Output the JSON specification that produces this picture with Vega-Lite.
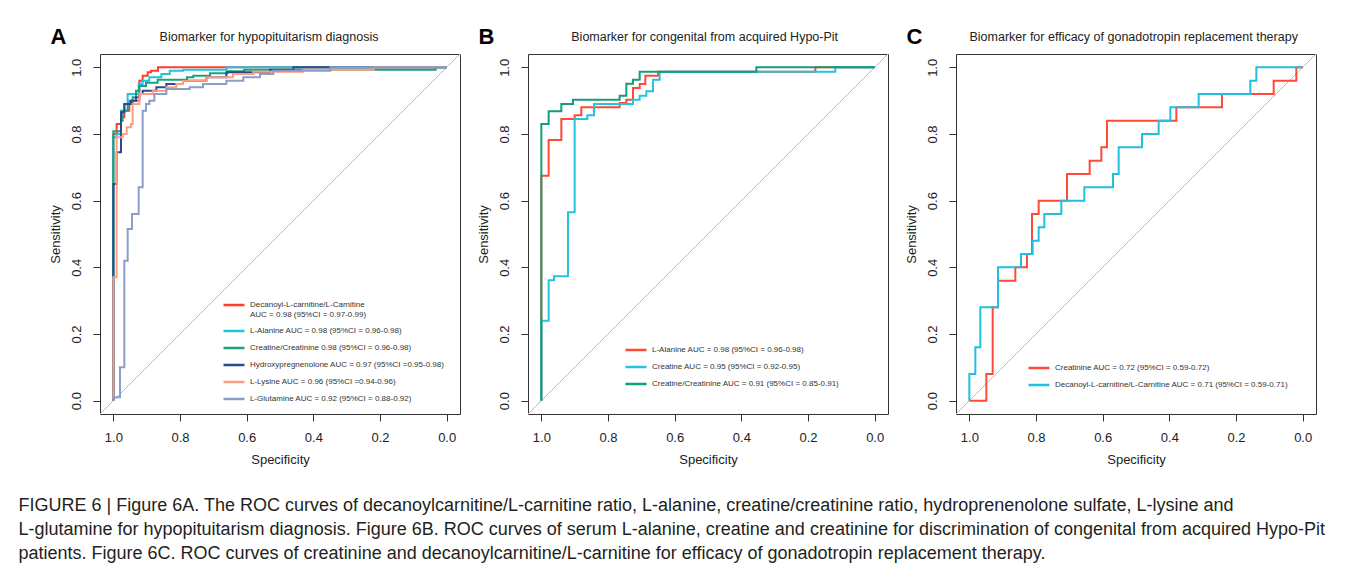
{
  "$schema": "https://vega.github.io/schema/vega-lite/v6.json",
  "background": "white",
  "padding": {"left": 18, "top": 25, "right": 5, "bottom": 5},
  "config": {
    "font": "Liberation Sans",
    "view": {"stroke": "#333", "strokeWidth": 1},
    "axis": {"grid": false, "domain": false, "tickColor": "#333", "tickSize": 7, "labelFontSize": 13, "titleFontSize": 13, "titleFontWeight": "normal", "labelColor": "#222", "titleColor": "#222", "format": ".1f"},
    "axisX": {"labelPadding": 10, "titlePadding": 9},
    "axisY": {"labelAngle": -90, "labelAlign": "center", "labelBaseline": "bottom", "labelPadding": 10, "titlePadding": 8},
    "legend": {"orient": "none", "symbolType": "stroke", "symbolStrokeWidth": 2.5, "symbolSize": 440, "labelFontSize": 8, "labelLimit": 0, "labelColor": "#333", "rowPadding": -2.5, "labelOffset": 4, "padding": 0},
    "text": {"font": "Liberation Sans"}
  },
  "title": {
    "text": [
      "FIGURE 6 | Figure 6A. The ROC curves of decanoylcarnitine/L-carnitine ratio, L-alanine, creatine/creatinine ratio, hydroprenenolone sulfate, L-lysine and",
      "L-glutamine for hypopituitarism diagnosis. Figure 6B. ROC curves of serum L-alanine, creatine and creatinine for discrimination of congenital from acquired Hypo-Pit",
      "patients. Figure 6C. ROC curves of creatinine and decanoylcarnitine/L-carnitine for efficacy of gonadotropin replacement therapy."
    ],
    "orient": "bottom", "anchor": "start", "dx": -30, "offset": 30, "fontSize": 18, "lineHeight": 24, "fontWeight": "normal", "color": "#231f20", "font": "Liberation Sans"
  },
  "datasets": {
    "panelA": [
      {"curve": "Decanoyl-L-carnitine/L-Carnitine\nAUC = 0.98 (95%CI = 0.97-0.99)", "specificity": 1, "sensitivity": 0},
      {"curve": "Decanoyl-L-carnitine/L-Carnitine\nAUC = 0.98 (95%CI = 0.97-0.99)", "specificity": 1, "sensitivity": 0.8},
      {"curve": "Decanoyl-L-carnitine/L-Carnitine\nAUC = 0.98 (95%CI = 0.97-0.99)", "specificity": 0.99, "sensitivity": 0.83},
      {"curve": "Decanoyl-L-carnitine/L-Carnitine\nAUC = 0.98 (95%CI = 0.97-0.99)", "specificity": 0.977, "sensitivity": 0.85},
      {"curve": "Decanoyl-L-carnitine/L-Carnitine\nAUC = 0.98 (95%CI = 0.97-0.99)", "specificity": 0.967, "sensitivity": 0.87},
      {"curve": "Decanoyl-L-carnitine/L-Carnitine\nAUC = 0.98 (95%CI = 0.97-0.99)", "specificity": 0.952, "sensitivity": 0.9},
      {"curve": "Decanoyl-L-carnitine/L-Carnitine\nAUC = 0.98 (95%CI = 0.97-0.99)", "specificity": 0.922, "sensitivity": 0.96},
      {"curve": "Decanoyl-L-carnitine/L-Carnitine\nAUC = 0.98 (95%CI = 0.97-0.99)", "specificity": 0.912, "sensitivity": 0.975},
      {"curve": "Decanoyl-L-carnitine/L-Carnitine\nAUC = 0.98 (95%CI = 0.97-0.99)", "specificity": 0.897, "sensitivity": 0.985},
      {"curve": "Decanoyl-L-carnitine/L-Carnitine\nAUC = 0.98 (95%CI = 0.97-0.99)", "specificity": 0.887, "sensitivity": 0.99},
      {"curve": "Decanoyl-L-carnitine/L-Carnitine\nAUC = 0.98 (95%CI = 0.97-0.99)", "specificity": 0.866, "sensitivity": 1},
      {"curve": "Decanoyl-L-carnitine/L-Carnitine\nAUC = 0.98 (95%CI = 0.97-0.99)", "specificity": 0, "sensitivity": 1},
      {"curve": "L-Alanine AUC = 0.98 (95%CI = 0.96-0.98)", "specificity": 1, "sensitivity": 0},
      {"curve": "L-Alanine AUC = 0.98 (95%CI = 0.96-0.98)", "specificity": 1, "sensitivity": 0.79},
      {"curve": "L-Alanine AUC = 0.98 (95%CI = 0.96-0.98)", "specificity": 0.99, "sensitivity": 0.8},
      {"curve": "L-Alanine AUC = 0.98 (95%CI = 0.96-0.98)", "specificity": 0.977, "sensitivity": 0.87},
      {"curve": "L-Alanine AUC = 0.98 (95%CI = 0.96-0.98)", "specificity": 0.967, "sensitivity": 0.89},
      {"curve": "L-Alanine AUC = 0.98 (95%CI = 0.96-0.98)", "specificity": 0.957, "sensitivity": 0.92},
      {"curve": "L-Alanine AUC = 0.98 (95%CI = 0.96-0.98)", "specificity": 0.924, "sensitivity": 0.95},
      {"curve": "L-Alanine AUC = 0.98 (95%CI = 0.96-0.98)", "specificity": 0.912, "sensitivity": 0.96},
      {"curve": "L-Alanine AUC = 0.98 (95%CI = 0.96-0.98)", "specificity": 0.892, "sensitivity": 0.97},
      {"curve": "L-Alanine AUC = 0.98 (95%CI = 0.96-0.98)", "specificity": 0.856, "sensitivity": 0.98},
      {"curve": "L-Alanine AUC = 0.98 (95%CI = 0.96-0.98)", "specificity": 0.831, "sensitivity": 0.99},
      {"curve": "L-Alanine AUC = 0.98 (95%CI = 0.96-0.98)", "specificity": 0.791, "sensitivity": 0.993},
      {"curve": "L-Alanine AUC = 0.98 (95%CI = 0.96-0.98)", "specificity": 0.66, "sensitivity": 1},
      {"curve": "L-Alanine AUC = 0.98 (95%CI = 0.96-0.98)", "specificity": 0, "sensitivity": 1},
      {"curve": "Creatine/Creatinine 0.98 (95%CI = 0.96-0.98)", "specificity": 1, "sensitivity": 0},
      {"curve": "Creatine/Creatinine 0.98 (95%CI = 0.96-0.98)", "specificity": 1, "sensitivity": 0.808},
      {"curve": "Creatine/Creatinine 0.98 (95%CI = 0.96-0.98)", "specificity": 0.977, "sensitivity": 0.84},
      {"curve": "Creatine/Creatinine 0.98 (95%CI = 0.96-0.98)", "specificity": 0.972, "sensitivity": 0.87},
      {"curve": "Creatine/Creatinine 0.98 (95%CI = 0.96-0.98)", "specificity": 0.957, "sensitivity": 0.89},
      {"curve": "Creatine/Creatinine 0.98 (95%CI = 0.96-0.98)", "specificity": 0.942, "sensitivity": 0.91},
      {"curve": "Creatine/Creatinine 0.98 (95%CI = 0.96-0.98)", "specificity": 0.932, "sensitivity": 0.93},
      {"curve": "Creatine/Creatinine 0.98 (95%CI = 0.96-0.98)", "specificity": 0.922, "sensitivity": 0.944},
      {"curve": "Creatine/Creatinine 0.98 (95%CI = 0.96-0.98)", "specificity": 0.902, "sensitivity": 0.954},
      {"curve": "Creatine/Creatinine 0.98 (95%CI = 0.96-0.98)", "specificity": 0.867, "sensitivity": 0.963},
      {"curve": "Creatine/Creatinine 0.98 (95%CI = 0.96-0.98)", "specificity": 0.779, "sensitivity": 0.97},
      {"curve": "Creatine/Creatinine 0.98 (95%CI = 0.96-0.98)", "specificity": 0.76, "sensitivity": 0.975},
      {"curve": "Creatine/Creatinine 0.98 (95%CI = 0.96-0.98)", "specificity": 0.71, "sensitivity": 0.982},
      {"curve": "Creatine/Creatinine 0.98 (95%CI = 0.96-0.98)", "specificity": 0.658, "sensitivity": 0.988},
      {"curve": "Creatine/Creatinine 0.98 (95%CI = 0.96-0.98)", "specificity": 0.608, "sensitivity": 0.993},
      {"curve": "Creatine/Creatinine 0.98 (95%CI = 0.96-0.98)", "specificity": 0.033, "sensitivity": 1},
      {"curve": "Creatine/Creatinine 0.98 (95%CI = 0.96-0.98)", "specificity": 0, "sensitivity": 1},
      {"curve": "Hydroxypregnenolone AUC = 0.97 (95%CI =0.95-0.98)", "specificity": 1, "sensitivity": 0},
      {"curve": "Hydroxypregnenolone AUC = 0.97 (95%CI =0.95-0.98)", "specificity": 1, "sensitivity": 0.65},
      {"curve": "Hydroxypregnenolone AUC = 0.97 (95%CI =0.95-0.98)", "specificity": 0.99, "sensitivity": 0.745},
      {"curve": "Hydroxypregnenolone AUC = 0.97 (95%CI =0.95-0.98)", "specificity": 0.977, "sensitivity": 0.865},
      {"curve": "Hydroxypregnenolone AUC = 0.97 (95%CI =0.95-0.98)", "specificity": 0.967, "sensitivity": 0.89},
      {"curve": "Hydroxypregnenolone AUC = 0.97 (95%CI =0.95-0.98)", "specificity": 0.947, "sensitivity": 0.9},
      {"curve": "Hydroxypregnenolone AUC = 0.97 (95%CI =0.95-0.98)", "specificity": 0.932, "sensitivity": 0.91},
      {"curve": "Hydroxypregnenolone AUC = 0.97 (95%CI =0.95-0.98)", "specificity": 0.922, "sensitivity": 0.92},
      {"curve": "Hydroxypregnenolone AUC = 0.97 (95%CI =0.95-0.98)", "specificity": 0.912, "sensitivity": 0.93},
      {"curve": "Hydroxypregnenolone AUC = 0.97 (95%CI =0.95-0.98)", "specificity": 0.871, "sensitivity": 0.94},
      {"curve": "Hydroxypregnenolone AUC = 0.97 (95%CI =0.95-0.98)", "specificity": 0.841, "sensitivity": 0.95},
      {"curve": "Hydroxypregnenolone AUC = 0.97 (95%CI =0.95-0.98)", "specificity": 0.791, "sensitivity": 0.96},
      {"curve": "Hydroxypregnenolone AUC = 0.97 (95%CI =0.95-0.98)", "specificity": 0.721, "sensitivity": 0.97},
      {"curve": "Hydroxypregnenolone AUC = 0.97 (95%CI =0.95-0.98)", "specificity": 0.661, "sensitivity": 0.985},
      {"curve": "Hydroxypregnenolone AUC = 0.97 (95%CI =0.95-0.98)", "specificity": 0.53, "sensitivity": 0.993},
      {"curve": "Hydroxypregnenolone AUC = 0.97 (95%CI =0.95-0.98)", "specificity": 0.46, "sensitivity": 1},
      {"curve": "Hydroxypregnenolone AUC = 0.97 (95%CI =0.95-0.98)", "specificity": 0, "sensitivity": 1},
      {"curve": "L-Lysine AUC = 0.96 (95%CI =0.94-0.96)", "specificity": 1, "sensitivity": 0},
      {"curve": "L-Lysine AUC = 0.96 (95%CI =0.94-0.96)", "specificity": 1, "sensitivity": 0.37},
      {"curve": "L-Lysine AUC = 0.96 (95%CI =0.94-0.96)", "specificity": 0.99, "sensitivity": 0.79},
      {"curve": "L-Lysine AUC = 0.96 (95%CI =0.94-0.96)", "specificity": 0.972, "sensitivity": 0.8},
      {"curve": "L-Lysine AUC = 0.96 (95%CI =0.94-0.96)", "specificity": 0.96, "sensitivity": 0.82},
      {"curve": "L-Lysine AUC = 0.96 (95%CI =0.94-0.96)", "specificity": 0.947, "sensitivity": 0.83},
      {"curve": "L-Lysine AUC = 0.96 (95%CI =0.94-0.96)", "specificity": 0.942, "sensitivity": 0.89},
      {"curve": "L-Lysine AUC = 0.96 (95%CI =0.94-0.96)", "specificity": 0.922, "sensitivity": 0.92},
      {"curve": "L-Lysine AUC = 0.96 (95%CI =0.94-0.96)", "specificity": 0.882, "sensitivity": 0.93},
      {"curve": "L-Lysine AUC = 0.96 (95%CI =0.94-0.96)", "specificity": 0.841, "sensitivity": 0.94},
      {"curve": "L-Lysine AUC = 0.96 (95%CI =0.94-0.96)", "specificity": 0.811, "sensitivity": 0.95},
      {"curve": "L-Lysine AUC = 0.96 (95%CI =0.94-0.96)", "specificity": 0.791, "sensitivity": 0.96},
      {"curve": "L-Lysine AUC = 0.96 (95%CI =0.94-0.96)", "specificity": 0.721, "sensitivity": 0.97},
      {"curve": "L-Lysine AUC = 0.96 (95%CI =0.94-0.96)", "specificity": 0.641, "sensitivity": 0.98},
      {"curve": "L-Lysine AUC = 0.96 (95%CI =0.94-0.96)", "specificity": 0.58, "sensitivity": 0.987},
      {"curve": "L-Lysine AUC = 0.96 (95%CI =0.94-0.96)", "specificity": 0.43, "sensitivity": 0.993},
      {"curve": "L-Lysine AUC = 0.96 (95%CI =0.94-0.96)", "specificity": 0.219, "sensitivity": 1},
      {"curve": "L-Lysine AUC = 0.96 (95%CI =0.94-0.96)", "specificity": 0, "sensitivity": 1},
      {"curve": "L-Glutamine AUC = 0.92 (95%CI = 0.88-0.92)", "specificity": 1, "sensitivity": 0},
      {"curve": "L-Glutamine AUC = 0.92 (95%CI = 0.88-0.92)", "specificity": 1, "sensitivity": 0.01},
      {"curve": "L-Glutamine AUC = 0.92 (95%CI = 0.88-0.92)", "specificity": 0.98, "sensitivity": 0.1},
      {"curve": "L-Glutamine AUC = 0.92 (95%CI = 0.88-0.92)", "specificity": 0.967, "sensitivity": 0.42},
      {"curve": "L-Glutamine AUC = 0.92 (95%CI = 0.88-0.92)", "specificity": 0.957, "sensitivity": 0.515},
      {"curve": "L-Glutamine AUC = 0.92 (95%CI = 0.88-0.92)", "specificity": 0.944, "sensitivity": 0.56},
      {"curve": "L-Glutamine AUC = 0.92 (95%CI = 0.88-0.92)", "specificity": 0.924, "sensitivity": 0.64},
      {"curve": "L-Glutamine AUC = 0.92 (95%CI = 0.88-0.92)", "specificity": 0.912, "sensitivity": 0.87},
      {"curve": "L-Glutamine AUC = 0.92 (95%CI = 0.88-0.92)", "specificity": 0.902, "sensitivity": 0.89},
      {"curve": "L-Glutamine AUC = 0.92 (95%CI = 0.88-0.92)", "specificity": 0.892, "sensitivity": 0.9},
      {"curve": "L-Glutamine AUC = 0.92 (95%CI = 0.88-0.92)", "specificity": 0.877, "sensitivity": 0.92},
      {"curve": "L-Glutamine AUC = 0.92 (95%CI = 0.88-0.92)", "specificity": 0.841, "sensitivity": 0.935},
      {"curve": "L-Glutamine AUC = 0.92 (95%CI = 0.88-0.92)", "specificity": 0.771, "sensitivity": 0.94},
      {"curve": "L-Glutamine AUC = 0.92 (95%CI = 0.88-0.92)", "specificity": 0.731, "sensitivity": 0.95},
      {"curve": "L-Glutamine AUC = 0.92 (95%CI = 0.88-0.92)", "specificity": 0.661, "sensitivity": 0.96},
      {"curve": "L-Glutamine AUC = 0.92 (95%CI = 0.88-0.92)", "specificity": 0.61, "sensitivity": 0.97},
      {"curve": "L-Glutamine AUC = 0.92 (95%CI = 0.88-0.92)", "specificity": 0.56, "sensitivity": 0.98},
      {"curve": "L-Glutamine AUC = 0.92 (95%CI = 0.88-0.92)", "specificity": 0.52, "sensitivity": 0.99},
      {"curve": "L-Glutamine AUC = 0.92 (95%CI = 0.88-0.92)", "specificity": 0.349, "sensitivity": 1},
      {"curve": "L-Glutamine AUC = 0.92 (95%CI = 0.88-0.92)", "specificity": 0, "sensitivity": 1}
    ],
    "panelB": [
      {"curve": "L-Alanine AUC = 0.98 (95%CI = 0.96-0.98)", "specificity": 1, "sensitivity": 0},
      {"curve": "L-Alanine AUC = 0.98 (95%CI = 0.96-0.98)", "specificity": 1, "sensitivity": 0.675},
      {"curve": "L-Alanine AUC = 0.98 (95%CI = 0.96-0.98)", "specificity": 0.978, "sensitivity": 0.782},
      {"curve": "L-Alanine AUC = 0.98 (95%CI = 0.96-0.98)", "specificity": 0.94, "sensitivity": 0.845},
      {"curve": "L-Alanine AUC = 0.98 (95%CI = 0.96-0.98)", "specificity": 0.9, "sensitivity": 0.856},
      {"curve": "L-Alanine AUC = 0.98 (95%CI = 0.96-0.98)", "specificity": 0.88, "sensitivity": 0.88},
      {"curve": "L-Alanine AUC = 0.98 (95%CI = 0.96-0.98)", "specificity": 0.765, "sensitivity": 0.893},
      {"curve": "L-Alanine AUC = 0.98 (95%CI = 0.96-0.98)", "specificity": 0.745, "sensitivity": 0.903},
      {"curve": "L-Alanine AUC = 0.98 (95%CI = 0.96-0.98)", "specificity": 0.725, "sensitivity": 0.938},
      {"curve": "L-Alanine AUC = 0.98 (95%CI = 0.96-0.98)", "specificity": 0.705, "sensitivity": 0.95},
      {"curve": "L-Alanine AUC = 0.98 (95%CI = 0.96-0.98)", "specificity": 0.688, "sensitivity": 0.975},
      {"curve": "L-Alanine AUC = 0.98 (95%CI = 0.96-0.98)", "specificity": 0.65, "sensitivity": 0.987},
      {"curve": "L-Alanine AUC = 0.98 (95%CI = 0.96-0.98)", "specificity": 0.178, "sensitivity": 1},
      {"curve": "L-Alanine AUC = 0.98 (95%CI = 0.96-0.98)", "specificity": 0, "sensitivity": 1},
      {"curve": "Creatine AUC = 0.95 (95%CI = 0.92-0.95)", "specificity": 1, "sensitivity": 0},
      {"curve": "Creatine AUC = 0.95 (95%CI = 0.92-0.95)", "specificity": 1, "sensitivity": 0.24},
      {"curve": "Creatine AUC = 0.95 (95%CI = 0.92-0.95)", "specificity": 0.978, "sensitivity": 0.361},
      {"curve": "Creatine AUC = 0.95 (95%CI = 0.92-0.95)", "specificity": 0.962, "sensitivity": 0.373},
      {"curve": "Creatine AUC = 0.95 (95%CI = 0.92-0.95)", "specificity": 0.92, "sensitivity": 0.565},
      {"curve": "Creatine AUC = 0.95 (95%CI = 0.92-0.95)", "specificity": 0.9, "sensitivity": 0.845},
      {"curve": "Creatine AUC = 0.95 (95%CI = 0.92-0.95)", "specificity": 0.862, "sensitivity": 0.856},
      {"curve": "Creatine AUC = 0.95 (95%CI = 0.92-0.95)", "specificity": 0.842, "sensitivity": 0.89},
      {"curve": "Creatine AUC = 0.95 (95%CI = 0.92-0.95)", "specificity": 0.725, "sensitivity": 0.903},
      {"curve": "Creatine AUC = 0.95 (95%CI = 0.92-0.95)", "specificity": 0.705, "sensitivity": 0.915},
      {"curve": "Creatine AUC = 0.95 (95%CI = 0.92-0.95)", "specificity": 0.685, "sensitivity": 0.928},
      {"curve": "Creatine AUC = 0.95 (95%CI = 0.92-0.95)", "specificity": 0.665, "sensitivity": 0.963},
      {"curve": "Creatine AUC = 0.95 (95%CI = 0.92-0.95)", "specificity": 0.645, "sensitivity": 0.987},
      {"curve": "Creatine AUC = 0.95 (95%CI = 0.92-0.95)", "specificity": 0.118, "sensitivity": 1},
      {"curve": "Creatine AUC = 0.95 (95%CI = 0.92-0.95)", "specificity": 0, "sensitivity": 1},
      {"curve": "Creatine/Creatinine AUC = 0.91 (95%CI = 0.85-0.91)", "specificity": 1, "sensitivity": 0},
      {"curve": "Creatine/Creatinine AUC = 0.91 (95%CI = 0.85-0.91)", "specificity": 1, "sensitivity": 0.83},
      {"curve": "Creatine/Creatinine AUC = 0.91 (95%CI = 0.85-0.91)", "specificity": 0.978, "sensitivity": 0.868},
      {"curve": "Creatine/Creatinine AUC = 0.91 (95%CI = 0.85-0.91)", "specificity": 0.94, "sensitivity": 0.89},
      {"curve": "Creatine/Creatinine AUC = 0.91 (95%CI = 0.85-0.91)", "specificity": 0.905, "sensitivity": 0.903},
      {"curve": "Creatine/Creatinine AUC = 0.91 (95%CI = 0.85-0.91)", "specificity": 0.765, "sensitivity": 0.915},
      {"curve": "Creatine/Creatinine AUC = 0.91 (95%CI = 0.85-0.91)", "specificity": 0.745, "sensitivity": 0.951},
      {"curve": "Creatine/Creatinine AUC = 0.91 (95%CI = 0.85-0.91)", "specificity": 0.725, "sensitivity": 0.963},
      {"curve": "Creatine/Creatinine AUC = 0.91 (95%CI = 0.85-0.91)", "specificity": 0.705, "sensitivity": 0.987},
      {"curve": "Creatine/Creatinine AUC = 0.91 (95%CI = 0.85-0.91)", "specificity": 0.355, "sensitivity": 1},
      {"curve": "Creatine/Creatinine AUC = 0.91 (95%CI = 0.85-0.91)", "specificity": 0, "sensitivity": 1}
    ],
    "panelC": [
      {"curve": "Creatinine AUC = 0.72 (95%CI = 0.59-0.72)", "specificity": 1, "sensitivity": 0},
      {"curve": "Creatinine AUC = 0.72 (95%CI = 0.59-0.72)", "specificity": 0.949, "sensitivity": 0.08},
      {"curve": "Creatinine AUC = 0.72 (95%CI = 0.59-0.72)", "specificity": 0.93, "sensitivity": 0.28},
      {"curve": "Creatinine AUC = 0.72 (95%CI = 0.59-0.72)", "specificity": 0.914, "sensitivity": 0.36},
      {"curve": "Creatinine AUC = 0.72 (95%CI = 0.59-0.72)", "specificity": 0.862, "sensitivity": 0.4},
      {"curve": "Creatinine AUC = 0.72 (95%CI = 0.59-0.72)", "specificity": 0.827, "sensitivity": 0.44},
      {"curve": "Creatinine AUC = 0.72 (95%CI = 0.59-0.72)", "specificity": 0.812, "sensitivity": 0.56},
      {"curve": "Creatinine AUC = 0.72 (95%CI = 0.59-0.72)", "specificity": 0.792, "sensitivity": 0.6},
      {"curve": "Creatinine AUC = 0.72 (95%CI = 0.59-0.72)", "specificity": 0.707, "sensitivity": 0.68},
      {"curve": "Creatinine AUC = 0.72 (95%CI = 0.59-0.72)", "specificity": 0.639, "sensitivity": 0.72},
      {"curve": "Creatinine AUC = 0.72 (95%CI = 0.59-0.72)", "specificity": 0.604, "sensitivity": 0.76},
      {"curve": "Creatinine AUC = 0.72 (95%CI = 0.59-0.72)", "specificity": 0.587, "sensitivity": 0.84},
      {"curve": "Creatinine AUC = 0.72 (95%CI = 0.59-0.72)", "specificity": 0.379, "sensitivity": 0.88},
      {"curve": "Creatinine AUC = 0.72 (95%CI = 0.59-0.72)", "specificity": 0.242, "sensitivity": 0.92},
      {"curve": "Creatinine AUC = 0.72 (95%CI = 0.59-0.72)", "specificity": 0.087, "sensitivity": 0.96},
      {"curve": "Creatinine AUC = 0.72 (95%CI = 0.59-0.72)", "specificity": 0.019, "sensitivity": 1},
      {"curve": "Creatinine AUC = 0.72 (95%CI = 0.59-0.72)", "specificity": 0, "sensitivity": 1},
      {"curve": "Decanoyl-L-carnitine/L-Carnitine AUC = 0.71 (95%CI = 0.59-0.71)", "specificity": 1, "sensitivity": 0},
      {"curve": "Decanoyl-L-carnitine/L-Carnitine AUC = 0.71 (95%CI = 0.59-0.71)", "specificity": 1, "sensitivity": 0.08},
      {"curve": "Decanoyl-L-carnitine/L-Carnitine AUC = 0.71 (95%CI = 0.59-0.71)", "specificity": 0.982, "sensitivity": 0.16},
      {"curve": "Decanoyl-L-carnitine/L-Carnitine AUC = 0.71 (95%CI = 0.59-0.71)", "specificity": 0.967, "sensitivity": 0.28},
      {"curve": "Decanoyl-L-carnitine/L-Carnitine AUC = 0.71 (95%CI = 0.59-0.71)", "specificity": 0.914, "sensitivity": 0.4},
      {"curve": "Decanoyl-L-carnitine/L-Carnitine AUC = 0.71 (95%CI = 0.59-0.71)", "specificity": 0.845, "sensitivity": 0.44},
      {"curve": "Decanoyl-L-carnitine/L-Carnitine AUC = 0.71 (95%CI = 0.59-0.71)", "specificity": 0.81, "sensitivity": 0.48},
      {"curve": "Decanoyl-L-carnitine/L-Carnitine AUC = 0.71 (95%CI = 0.59-0.71)", "specificity": 0.792, "sensitivity": 0.52},
      {"curve": "Decanoyl-L-carnitine/L-Carnitine AUC = 0.71 (95%CI = 0.59-0.71)", "specificity": 0.775, "sensitivity": 0.56},
      {"curve": "Decanoyl-L-carnitine/L-Carnitine AUC = 0.71 (95%CI = 0.59-0.71)", "specificity": 0.724, "sensitivity": 0.6},
      {"curve": "Decanoyl-L-carnitine/L-Carnitine AUC = 0.71 (95%CI = 0.59-0.71)", "specificity": 0.655, "sensitivity": 0.64},
      {"curve": "Decanoyl-L-carnitine/L-Carnitine AUC = 0.71 (95%CI = 0.59-0.71)", "specificity": 0.569, "sensitivity": 0.68},
      {"curve": "Decanoyl-L-carnitine/L-Carnitine AUC = 0.71 (95%CI = 0.59-0.71)", "specificity": 0.552, "sensitivity": 0.76},
      {"curve": "Decanoyl-L-carnitine/L-Carnitine AUC = 0.71 (95%CI = 0.59-0.71)", "specificity": 0.482, "sensitivity": 0.8},
      {"curve": "Decanoyl-L-carnitine/L-Carnitine AUC = 0.71 (95%CI = 0.59-0.71)", "specificity": 0.432, "sensitivity": 0.84},
      {"curve": "Decanoyl-L-carnitine/L-Carnitine AUC = 0.71 (95%CI = 0.59-0.71)", "specificity": 0.397, "sensitivity": 0.88},
      {"curve": "Decanoyl-L-carnitine/L-Carnitine AUC = 0.71 (95%CI = 0.59-0.71)", "specificity": 0.312, "sensitivity": 0.92},
      {"curve": "Decanoyl-L-carnitine/L-Carnitine AUC = 0.71 (95%CI = 0.59-0.71)", "specificity": 0.157, "sensitivity": 0.96},
      {"curve": "Decanoyl-L-carnitine/L-Carnitine AUC = 0.71 (95%CI = 0.59-0.71)", "specificity": 0.139, "sensitivity": 1},
      {"curve": "Decanoyl-L-carnitine/L-Carnitine AUC = 0.71 (95%CI = 0.59-0.71)", "specificity": 0, "sensitivity": 1}
    ]
  },
  "spacing": 15,
  "resolve": {"scale": {"color": "independent"}, "legend": {"color": "independent"}},
  "hconcat": [
    {
      "width": 360, "height": 360,
      "data": {"values": [{"letter": "A", "heading": "Biomarker for hypopituitarism diagnosis"}]},
      "layer": [
        {
          "mark": {"type": "rule", "color": "#bdbdbd", "strokeWidth": 1},
          "encoding": {
            "x": {"datum": 1.04, "type": "quantitative", "scale": {"domain": [-0.04, 1.04], "reverse": true, "nice": false, "zero": false}, "axis": {"title": "Specificity", "values": [0, 0.2, 0.4, 0.6, 0.8, 1]}},
            "y": {"datum": -0.04, "type": "quantitative", "scale": {"domain": [-0.04, 1.04], "nice": false, "zero": false}, "axis": {"title": "Sensitivity", "values": [0, 0.2, 0.4, 0.6, 0.8, 1]}},
            "x2": {"datum": -0.04},
            "y2": {"datum": 1.04}
          }
        },
        {
          "data": {"name": "panelA"},
          "mark": {"type": "line", "interpolate": "step-after", "strokeWidth": 2},
          "encoding": {
            "x": {"field": "specificity", "type": "quantitative"},
            "y": {"field": "sensitivity", "type": "quantitative"},
            "color": {
              "field": "curve", "type": "nominal",
              "scale": {
                "domain": ["Decanoyl-L-carnitine/L-Carnitine\nAUC = 0.98 (95%CI = 0.97-0.99)", "L-Alanine AUC = 0.98 (95%CI = 0.96-0.98)", "Creatine/Creatinine 0.98 (95%CI = 0.96-0.98)", "Hydroxypregnenolone AUC = 0.97 (95%CI =0.95-0.98)", "L-Lysine AUC = 0.96 (95%CI =0.94-0.96)", "L-Glutamine AUC = 0.92 (95%CI = 0.88-0.92)"],
                "range": ["#ff3d2e", "#1fc3e3", "#17a37f", "#2c4a8e", "#ff9c82", "#8c9dc9"]
              },
              "legend": {"title": null, "legendX": 122, "legendY": 239, "labelExpr": "split(datum.label, '\\n')"}
            },
            "order": [{"field": "specificity", "sort": "descending"}, {"field": "sensitivity", "sort": "ascending"}]
          }
        },
        {
          "mark": {"type": "text", "fontSize": 22, "fontWeight": "bold", "color": "#000"},
          "encoding": {"x": {"datum": 1.165}, "y": {"datum": 1.09}, "text": {"field": "letter"}}
        },
        {
          "mark": {"type": "text", "fontSize": 12.5, "color": "#222"},
          "encoding": {"x": {"datum": 0.533}, "y": {"datum": 1.09}, "text": {"field": "heading"}}
        }
      ]
    },
    {
      "width": 360, "height": 360,
      "data": {"values": [{"letter": "B", "heading": "Biomarker for congenital from acquired Hypo-Pit"}]},
      "layer": [
        {
          "mark": {"type": "rule", "color": "#bdbdbd", "strokeWidth": 1},
          "encoding": {
            "x": {"datum": 1.04, "type": "quantitative", "scale": {"domain": [-0.04, 1.04], "reverse": true, "nice": false, "zero": false}, "axis": {"title": "Specificity", "values": [0, 0.2, 0.4, 0.6, 0.8, 1]}},
            "y": {"datum": -0.04, "type": "quantitative", "scale": {"domain": [-0.04, 1.04], "nice": false, "zero": false}, "axis": {"title": "Sensitivity", "values": [0, 0.2, 0.4, 0.6, 0.8, 1]}},
            "x2": {"datum": -0.04},
            "y2": {"datum": 1.04}
          }
        },
        {
          "data": {"name": "panelB"},
          "mark": {"type": "line", "interpolate": "step-after", "strokeWidth": 2},
          "encoding": {
            "x": {"field": "specificity", "type": "quantitative"},
            "y": {"field": "sensitivity", "type": "quantitative"},
            "color": {
              "field": "curve", "type": "nominal",
              "scale": {
                "domain": ["L-Alanine AUC = 0.98 (95%CI = 0.96-0.98)", "Creatine AUC = 0.95 (95%CI = 0.92-0.95)", "Creatine/Creatinine AUC = 0.91 (95%CI = 0.85-0.91)"],
                "range": ["#ff4a36", "#26c2e2", "#119e7b"]
              },
              "legend": {"title": null, "legendX": 96, "legendY": 284}
            },
            "order": [{"field": "specificity", "sort": "descending"}, {"field": "sensitivity", "sort": "ascending"}]
          }
        },
        {
          "mark": {"type": "text", "fontSize": 22, "fontWeight": "bold", "color": "#000"},
          "encoding": {"x": {"datum": 1.165}, "y": {"datum": 1.09}, "text": {"field": "letter"}}
        },
        {
          "mark": {"type": "text", "fontSize": 12.5, "color": "#222"},
          "encoding": {"x": {"datum": 0.51}, "y": {"datum": 1.09}, "text": {"field": "heading"}}
        }
      ]
    },
    {
      "width": 360, "height": 360,
      "data": {"values": [{"letter": "C", "heading": "Biomarker for efficacy of gonadotropin replacement therapy"}]},
      "layer": [
        {
          "mark": {"type": "rule", "color": "#bdbdbd", "strokeWidth": 1},
          "encoding": {
            "x": {"datum": 1.04, "type": "quantitative", "scale": {"domain": [-0.04, 1.04], "reverse": true, "nice": false, "zero": false}, "axis": {"title": "Specificity", "values": [0, 0.2, 0.4, 0.6, 0.8, 1]}},
            "y": {"datum": -0.04, "type": "quantitative", "scale": {"domain": [-0.04, 1.04], "nice": false, "zero": false}, "axis": {"title": "Sensitivity", "values": [0, 0.2, 0.4, 0.6, 0.8, 1]}},
            "x2": {"datum": -0.04},
            "y2": {"datum": 1.04}
          }
        },
        {
          "data": {"name": "panelC"},
          "mark": {"type": "line", "interpolate": "step-after", "strokeWidth": 2},
          "encoding": {
            "x": {"field": "specificity", "type": "quantitative"},
            "y": {"field": "sensitivity", "type": "quantitative"},
            "color": {
              "field": "curve", "type": "nominal",
              "scale": {
                "domain": ["Creatinine AUC = 0.72 (95%CI = 0.59-0.72)", "Decanoyl-L-carnitine/L-Carnitine AUC = 0.71 (95%CI = 0.59-0.71)"],
                "range": ["#ff4a38", "#21c0e0"]
              },
              "legend": {"title": null, "legendX": 71, "legendY": 302}
            },
            "order": [{"field": "specificity", "sort": "descending"}, {"field": "sensitivity", "sort": "ascending"}]
          }
        },
        {
          "mark": {"type": "text", "fontSize": 22, "fontWeight": "bold", "color": "#000"},
          "encoding": {"x": {"datum": 1.165}, "y": {"datum": 1.09}, "text": {"field": "letter"}}
        },
        {
          "mark": {"type": "text", "fontSize": 12.5, "color": "#222"},
          "encoding": {"x": {"datum": 0.507}, "y": {"datum": 1.09}, "text": {"field": "heading"}}
        }
      ]
    }
  ]
}
